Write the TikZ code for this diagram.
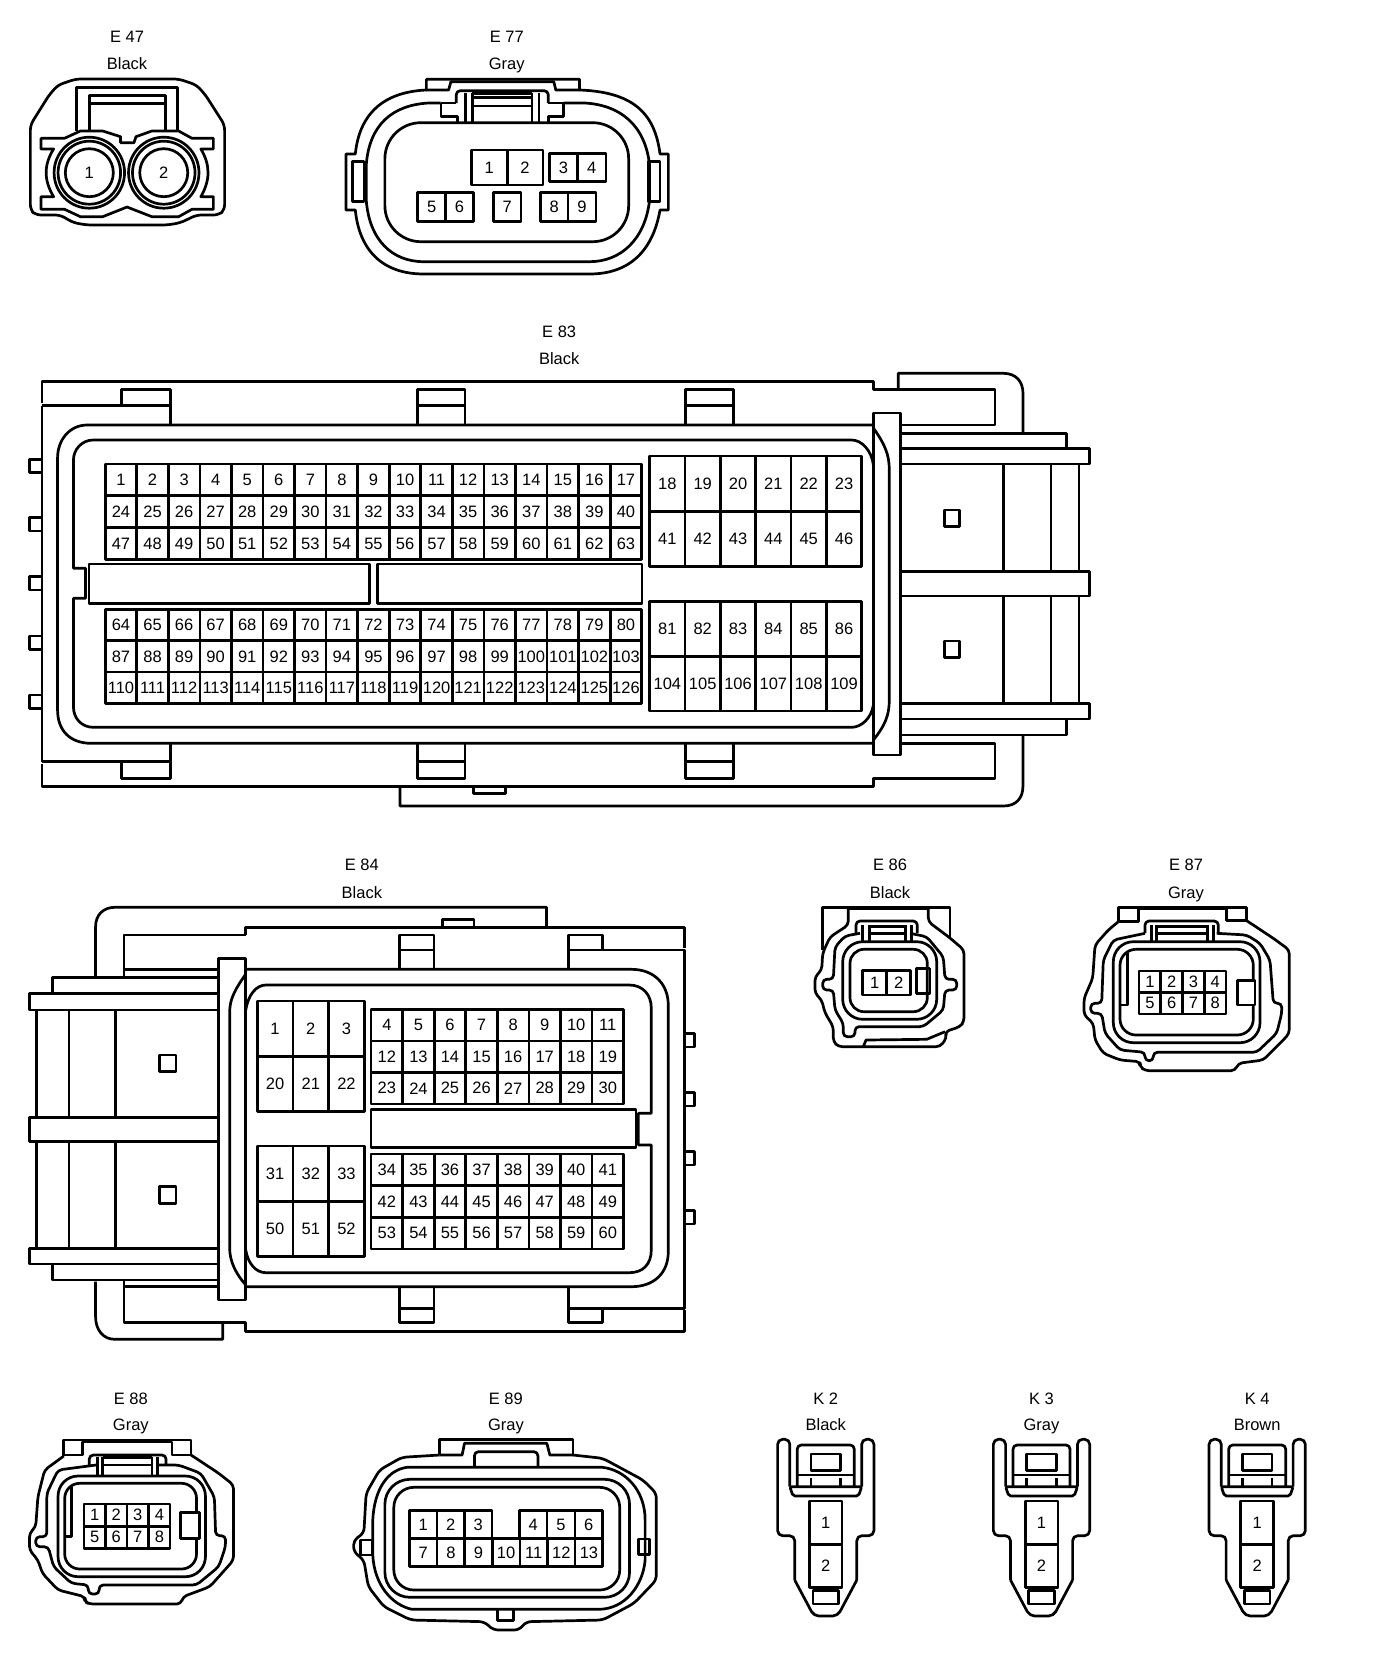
\documentclass[tikz,border=0pt]{standalone}
\usepackage{fontspec}
\setmainfont{Liberation Sans}
\usetikzlibrary{positioning,calc}
\newcommand{\txtsize}{\fontsize{16.5}{18}\selectfont}
% name, x0, y0, dx, dy, cols, rows, first number, number step per row
\newcommand{\pingrid}[9]{%
  \foreach \row in {1,...,#7} \foreach \col in {1,...,#6} {
    \pgfmathtruncatemacro{\pinno}{#8+(\row-1)*#9+\col-1}
    \node[pin, minimum width={#4*.9925*1pt}, minimum height=#5pt] (#1-\pinno) at ({#2+(\col-.5)*#4},{#3+(\row-.5)*#5}) {\pinno};
  }}
\tikzset{
  lbl/.style={font=\txtsize, inner sep=0pt, text height=11.9pt, text depth=0pt},
  pin/.style={draw, font=\txtsize, inner sep=0pt, outer sep=0pt, fill=white},
  keyblock/.style={draw, fill=white},
  pinround/.style={draw, circle, font=\txtsize, inner sep=0pt, outer sep=0pt, fill=white},
}
\begin{document}
\begin{tikzpicture}[x=.9925pt, y=-1pt, line width=2.7pt, line join=round]
  \useasboundingbox (0,0) rectangle (1386.4,1670);

  % E 47
  \node[lbl] (e47id) at (128,37) {E 47};
  \node[lbl] (e47col) at (128,64) {Black};
  \draw[rounded corners=5pt] (76.5,79) -- (58.5,85) -- (49.5,95) -- (30.6,125) -- (30.6,210) -- (36,215) -- (60.7,215) -- (74,222.7) -- (87.7,225) -- (168.7,225) -- (182,222.7) -- (198,215) -- (220.4,215) -- (226.3,210) -- (226.3,125) -- (207,95) -- (198,85) -- (180,79) -- cycle;
  \draw (77.4,131) -- (77.4,87.3) -- (178.6,87.3) -- (178.6,131);
  \draw (90,131) -- (90,95.7) -- (166.4,95.7) -- (166.4,131);
  \draw (90,103.3) -- (166.4,103.3);
  \draw[fill=white] (41.4,138.3) -- (65,138.3) -- (81,131) -- (103.5,131) -- (121.5,136.7) -- (121.5,142.7) -- (135,142.7) -- (137,136.7) -- (153,131) -- (180,131) -- (193.4,138.3) -- (215,138.3) -- (215,149) -- (202.4,149) .. controls (212,165) and (212,180) .. (202.4,196.7) -- (215,196.7) -- (215,209.3) -- (193.4,209.3) -- (180,216.7) -- (153,216.7) -- (128,207) -- (103.5,216.7) -- (81,216.7) -- (65,209.3) -- (41.4,209.3) -- (41.4,196.7) -- (54,196.7) .. controls (44,180) and (44,165) .. (54,149) -- (41.4,149) -- cycle;
  \foreach \cx in {90,165} {
    \draw[fill=white] (\cx,172.7) circle (35.5);
    \draw (\cx,172.7) circle (31.5);
  }
  \node[pinround, minimum size=48pt] (e47-1) at (90,172.7) {1};
  \node[pinround, minimum size=48pt] (e47-2) at (165,172.7) {2};

  % E 77
  \node[lbl] (e77id) at (510.6,37) {E 77};
  \node[lbl] (e77col) at (510.6,64) {Gray};
  \draw (429.6,90) -- (429.6,79.3) -- (583.9,79.3) -- (583.9,90) .. controls (640,92) and (660,115) .. (665,154) -- (673.4,154) -- (673.4,210) -- (665,210) .. controls (658,250) and (635,274) .. (594,274) -- (427,274) .. controls (385,274) and (362,250) .. (358,210) -- (348.6,210) -- (348.6,154) -- (358,154) .. controls (362,115) and (385,92) .. (429.6,90) -- cycle;
  \draw (429.6,90) -- (452,90) -- (454.3,81.7) -- (558,81.7) -- (560,90) -- (583.9,90);
  \draw (444,103) -- (432,103) .. controls (395,105) and (372,125) .. (369,165) -- (369,200) .. controls (372,240) and (395,261.7) .. (427,261.7) -- (594,261.7) .. controls (625,261.7) and (650,240) .. (654.5,200) -- (654.5,165) .. controls (650,125) and (625,105) .. (589,103) -- (568,103);
  \draw (355.4,161.7) rectangle (366.6,201.7);
  \draw (653,161.7) rectangle (665,201.7);
  \draw[rounded corners=36pt] (387.8,122.7) rectangle (633.4,241.7);
  \draw[rounded corners=4pt] (459.7,103) -- (459.7,90.7) -- (552.4,90.7) -- (552.4,103);
  \draw (444,103) -- (459.7,103) (552.4,103) -- (568,103);
  \draw (469,93) -- (469,122.7) (476,93) -- (476,122.7) (536,93) -- (536,122.7) (543,93) -- (543,122.7);
  \draw (476,93.3) -- (536,93.3) (476,97.3) -- (536,97.3) (476,106) -- (536,106);
  \draw (444.4,103) -- (444.4,116.7) -- (461,116.7) -- (461,122.7);
  \draw (568,103) -- (568,116.7) -- (552.4,116.7) -- (552.4,122.7);
  \pingrid{e77}{475}{150}{36}{35}{2}{1}{1}{0}
  \pingrid{e77}{553.3}{153.3}{28.6}{28.4}{2}{1}{3}{0}
  \pingrid{e77}{421}{192.7}{27.9}{29}{2}{1}{5}{0}
  \pingrid{e77}{497}{192.7}{28}{29}{1}{1}{7}{0}
  \pingrid{e77}{544.3}{192.7}{28.1}{29}{2}{1}{8}{0}

  % E 83
  \node[lbl] (e83id) at (563.4,332) {E 83};
  \node[lbl] (e83col) at (563.4,359) {Black};
  \draw (42.4,403) -- (42.4,381.7) -- (880,381.7) -- (880,389.3) -- (1002.5,389.3) -- (1002.5,425) -- (907,425);
  \draw (42.4,405.7) -- (42.4,761.7);
  \draw (42.4,405.7) -- (171.8,405.7) -- (171.8,425);
  \draw (42.4,761.7) -- (171.8,761.7) -- (171.8,743.3);
  \draw (42.4,764) -- (42.4,786.7) -- (880,786.7) -- (880,778.3) -- (1002.5,778.3) -- (1002.5,743.3) -- (907,743.3);
  \draw (122.3,405.7) -- (122.3,389.3) -- (171.8,389.3) -- (171.8,405.7);
  \draw (122.3,761.7) -- (122.3,778.3) -- (171.8,778.3) -- (171.8,761.7);
  \foreach \tx in {420.6,690.7} {
    \draw (\tx,425) -- (\tx,389.3) -- ({\tx+48},389.3) -- ({\tx+48},425) (\tx,405.7) -- ({\tx+48},405.7);
    \draw (\tx,743.3) -- (\tx,778.3) -- ({\tx+48},778.3) -- ({\tx+48},743.3) (\tx,761.7) -- ({\tx+48},761.7);
  }
  \foreach \py in {466,524.3,583.3,642.7,701.7} {
    \draw (42.4,{\py-6.7}) -- (29.7,{\py-6.7}) -- (29.7,{\py+6.7}) -- (42.4,{\py+6.7});
  }
  \draw (880,413) rectangle (907,755);
  \draw (880,425) -- (88,425) .. controls (70,425) and (58,440) .. (58,458) -- (58,710) .. controls (58,730) and (70,743.3) .. (92,743.3) -- (880,743.3);
  \draw (880,428) .. controls (892,445) and (896,455) .. (896,470) -- (896,700) .. controls (896,715) and (892,725) .. (880,740);
  \draw (880,465) .. controls (878,450) and (868,440) .. (858,440) -- (94,440) .. controls (82,440) and (74,450) .. (74,460) -- (74,568.3) -- (86.2,568.3) -- (86.2,598.3) -- (74,598.3) -- (74,707) .. controls (74,718) and (82,727.3) .. (94,727.3) -- (858,727.3) .. controls (868,727.3) and (878,718) .. (880,705);
  \node[keyblock, minimum width=280.7pt, minimum height=39.3pt, outer sep=0pt] (e83keya) at (231.2,583.6) {};
  \node[keyblock, minimum width=264.6pt, minimum height=39.3pt, outer sep=0pt] (e83keyb) at (513.6,583.6) {};
  \pingrid{e83}{106}{464}{31.8}{31.8}{17}{3}{1}{23}
  \pingrid{e83}{106}{609.3}{31.8}{31.4}{17}{3}{64}{23}
  \pingrid{e83}{654.6}{456}{35.6}{55.3}{6}{2}{18}{23}
  \pingrid{e83}{654.6}{601.7}{35.6}{54.7}{6}{2}{81}{23}
  \draw (905,389.3) -- (905,373.3) -- (1011,373.3) .. controls (1024,373.3) and (1030.7,382) .. (1030.7,393) -- (1030.7,433.3);
  \draw (907,433.3) -- (1074.6,433.3) -- (1074.6,448.3) -- (1098,448.3) -- (1098,464) -- (907,464);
  \draw (907,448.3) -- (1074.6,448.3);
  \draw (907,571.7) -- (1098,571.7) -- (1098,596) -- (907,596);
  \draw (907,703.3) -- (1098,703.3) -- (1098,719) -- (907,719);
  \draw (1074.6,719) -- (1074.6,735) -- (907,735);
  \draw (1011,464) -- (1011,571.7) (1059,464) -- (1059,571.7) (1087,464) -- (1087,571.7);
  \draw (1011,596) -- (1011,703.3) (1059,596) -- (1059,703.3) (1087,596) -- (1087,703.3);
  \draw (1030.7,735) -- (1030.7,786) .. controls (1030.7,798) and (1024,806) .. (1011,806) -- (403,806) -- (403,786.7);
  \draw (477,786.7) -- (477,793.3) -- (509,793.3) -- (509,786.7);
  \draw (951.6,510) rectangle (966.4,526.7);
  \draw (951.6,641) rectangle (966.4,657.7);

  % E 84
  \node[lbl] (e84id) at (364.6,865) {E 84};
  \node[lbl] (e84col) at (364.6,892.3) {Black};
  \draw (96.3,976.7) -- (96.3,926.7) .. controls (96.3,915) and (104,907.3) .. (115.7,907.3) -- (550.7,907.3) -- (550.7,927.3);
  \draw (247.6,935) -- (125,935) -- (125,976.7);
  \draw (125,969.3) -- (219.8,969.3);
  \draw (125,1286.7) -- (219.8,1286.7);
  \draw (247.6,935) -- (247.6,927.3) -- (689.5,927.3) -- (689.5,948);
  \draw (572.9,950) -- (689.5,950) -- (689.5,1308.3) -- (572.9,1308.3);
  \draw (689.5,1310) -- (689.5,1331.7) -- (247.6,1331.7) -- (247.6,1322.7) -- (125,1322.7) -- (125,1280);
  \draw (96.3,1281.7) -- (96.3,1316.7) .. controls (96.3,1330) and (104,1339.3) .. (115.7,1339.3) -- (224.4,1339.3) -- (224.4,1323);
  \draw (445.6,927.3) -- (445.6,919.3) -- (477.6,919.3) -- (477.6,927.3);
  \draw (402.6,969.3) -- (402.6,935) -- (437.3,935) -- (437.3,969.3) (402.6,950) -- (437.3,950);
  \draw (402.6,1288.3) -- (402.6,1322.7) -- (437.3,1322.7) -- (437.3,1288.3) (402.6,1308.3) -- (437.3,1308.3);
  \draw (572.9,969.3) -- (572.9,935) -- (607.1,935) -- (607.1,950);
  \draw (572.9,1288.3) -- (572.9,1322.7) -- (607.1,1322.7) -- (607.1,1308.3);
  \foreach \py in {1040.3,1099.3,1158.3,1217.3} {
    \draw (689.5,{\py-6.7}) -- (700,{\py-6.7}) -- (700,{\py+6.7}) -- (689.5,{\py+6.7});
  }
  \draw (219.8,958.3) rectangle (247.6,1300);
  \draw (247.6,969.3) -- (636,969.3) .. controls (660,969.3) and (673.3,985) .. (673.3,1005) -- (673.3,1252) .. controls (673.3,1272) and (660,1286.7) .. (636,1286.7) -- (247.6,1286.7);
  \draw (247.6,974) .. controls (238,988) and (231.4,998) .. (231.4,1012) -- (231.4,1248) .. controls (231.4,1262) and (238,1274) .. (247.6,1285);
  \draw (247.6,1010) .. controls (250,995) and (258,985) .. (268,985) -- (634,985) .. controls (648,985) and (656.2,995) .. (656.2,1008) -- (656.2,1113.3) -- (643.2,1113.3) -- (643.2,1145) -- (656.2,1145) -- (656.2,1250) .. controls (656.2,1264) and (648,1272.7) .. (634,1272.7) -- (268,1272.7) .. controls (258,1272.7) and (250,1264) .. (247.6,1250);
  \node[keyblock, minimum width=265pt, minimum height=38.4pt, outer sep=0pt] (e84key) at (507.4,1128.5) {};
  \pingrid{e84}{259.1}{1001}{36}{55.3}{3}{2}{1}{19}
  \pingrid{e84}{259.1}{1146}{36}{55.3}{3}{2}{31}{19}
  \pingrid{e84}{373.9}{1009.3}{31.8}{31.6}{8}{2}{4}{8}
  \pingrid{e84}{373.9}{1072.5}{31.8}{31.6}{8}{1}{23}{8}
  \pingrid{e84}{373.9}{1154}{31.8}{31.7}{8}{2}{34}{8}
  \pingrid{e84}{373.9}{1217.4}{31.8}{31.7}{8}{1}{53}{8}
  \draw (219.8,977.3) -- (53.2,977.3) -- (53.2,993.3);
  \draw (219.8,993.3) -- (30,993.3) -- (30,1010) -- (219.8,1010);
  \draw (219.8,1117.3) -- (30,1117.3) -- (30,1141.7) -- (219.8,1141.7);
  \draw (219.8,1248.3) -- (30,1248.3) -- (30,1264) -- (219.8,1264);
  \draw (53.2,1264) -- (53.2,1280) -- (219.8,1280);
  \draw (37,1010) -- (37,1117.3) (69.4,1010) -- (69.4,1117.3) (116.6,1010) -- (116.6,1117.3);
  \draw (37,1141.7) -- (37,1248.3) (69.4,1141.7) -- (69.4,1248.3) (116.6,1141.7) -- (116.6,1248.3);
  \draw (160.6,1055) rectangle (177.2,1071.7);
  \draw (160.6,1186.7) rectangle (177.2,1203.3);

  \begin{scope}[x=1pt]
  % E 86
  \node[lbl] (e86id) at (890,865) {E 86};
  \node[lbl] (e86col) at (890,892.3) {Black};
  \draw (822.7,950) -- (822.7,907.3) -- (950,907.3) -- (950,938);
  \draw[rounded corners=4pt] (848.3,909) -- (848.3,925) -- (830,937) -- (822.7,953) -- (821.7,970) -- (815,976.7) -- (815,993.3) -- (821.7,1000) -- (825,1013) -- (833.3,1026.7) -- (833.3,1041.7) -- (838.3,1046.7) -- (940,1046.7) -- (946.7,1038) -- (945,1031.7) -- (960,1026.7) -- (964,1021.7) -- (964,950) -- (950,938) -- (928.3,921.7) -- (928.3,909);
  \draw (848.3,909) -- (928.3,909);
  \draw[rounded corners=4pt] (860,933.3) -- (845,936) -- (835,947) -- (833.3,979.3) -- (822.7,979.3) -- (822.7,990) -- (833.3,990) -- (835,1010) -- (843.3,1023.3) -- (843.3,1036.7) -- (855,1036.7) -- (855,1026.7) -- (923.3,1026.7) -- (943.3,1010) -- (945,990) -- (956.7,990) -- (956.7,979.3) -- (945,979.3) -- (943.3,956.7) -- (926.7,936.7) -- (910,933.3);
  \draw (863.3,1046.7) -- (866,1040) -- (926.7,1039.3) -- (945,1031.7);
  \draw[rounded corners=20pt] (842.7,941.7) rectangle (936.7,1019.3);
  \draw[rounded corners=14pt] (850,949.3) rectangle (927.3,1011.7);
  \draw[rounded corners=4pt] (856,933) -- (856,921) -- (917.3,921) -- (917.3,933);
  \draw (862.3,925) -- (862.3,941.7) (869.3,925) -- (869.3,941.7) (905.7,925) -- (905.7,941.7) (911.7,925) -- (911.7,941.7);
  \draw (869.3,926.7) -- (905.7,926.7) (869.3,933.3) -- (905.7,933.3);
  \pingrid{e86}{862.7}{970.7}{24}{24.3}{2}{1}{1}{0}
  \draw (930,968.3) -- (916.7,968.3) -- (916.7,993.3) -- (930,993.3) -- (930,968.3);

  % E 87
  \node[lbl] (e87id) at (1186,865) {E 87};
  \node[lbl] (e87col) at (1186,892.3) {Gray};
  \draw (1118.3,921.7) -- (1118.3,907.3) -- (1246.7,907.3) -- (1246.7,920.7);
  \draw (1118.3,921.7) -- (1138.3,921.7) -- (1138.3,909) -- (1226.7,909) -- (1226.7,920.7) -- (1246.7,920.7);
  \draw[rounded corners=4pt] (1118.3,921.7) -- (1108.3,930) -- (1095,945) -- (1092.7,978.3) -- (1084,998.3) -- (1084,1015) -- (1093.3,1023.3) -- (1095,1040) -- (1103.3,1053.3) -- (1120,1060) -- (1140,1061.7) -- (1140,1066.7) -- (1145,1070.7) -- (1235,1070.7) -- (1238.3,1063.3) -- (1263.3,1060) -- (1283.3,1040) -- (1289.3,1033.3) -- (1289.3,950) -- (1273.3,938.3) -- (1246.7,920.7);
  \draw[rounded corners=4pt] (1145,933.3) -- (1113.3,940) -- (1103.3,960) -- (1101.7,1003.3) -- (1090.7,1003.3) -- (1090.7,1013.3) -- (1101.7,1013.3) -- (1105,1033.3) -- (1120,1050) -- (1145,1052.3) -- (1145,1060.7) -- (1153.3,1060.7) -- (1153.3,1052.3) -- (1256.7,1052.3) -- (1276.7,1033.3) -- (1281.7,1013.3) -- (1281.7,1003.3) -- (1273.3,1003.3) -- (1270,960) -- (1260,943.3) -- (1246.7,935) -- (1216.7,933.3);
  \draw[rounded corners=20pt] (1113.3,941.7) rectangle (1260,1042.7);
  \draw[rounded corners=16pt] (1120,949.3) rectangle (1253.3,1035);
  \draw (1127.3,953) -- (1127.3,1005) -- (1120,1005);
  \draw[rounded corners=4pt] (1145,933) -- (1145,921) -- (1218.3,921) -- (1218.3,933);
  \draw (1151.7,925) -- (1151.7,941.7) (1156.7,925) -- (1156.7,941.7) (1207.7,925) -- (1207.7,941.7) (1213.3,925) -- (1213.3,941.7);
  \draw (1156.7,926.7) -- (1207.7,926.7) (1156.7,933.3) -- (1207.7,933.3);
  \pingrid{e87}{1139}{971}{21.75}{21.5}{4}{2}{1}{4}
  \draw[fill=white] (1237.3,980.7) rectangle (1255,1005);
  \end{scope}

  % E 88
  \node[lbl] (e88id) at (131.8,1398.3) {E 88};
  \node[lbl] (e88col) at (131.8,1425) {Gray};
  \draw (64.3,1456) -- (64.3,1440) -- (192.5,1440) -- (192.5,1455);
  \draw (64.3,1455) -- (83.2,1455) -- (83.2,1442) -- (173.2,1442) -- (173.2,1455) -- (192.5,1455);
  \draw[rounded corners=4pt] (64.3,1456) -- (45,1470) -- (38.2,1496.7) -- (36,1526.7) -- (29.7,1533.3) -- (29.7,1550) -- (38.2,1560) -- (42.7,1573.3) -- (58.5,1590) -- (85.5,1596.7) -- (85.5,1601.7) -- (90,1604) -- (182.2,1604) -- (184.4,1596.7) -- (211.4,1586.7) -- (229.4,1566.7) -- (235.3,1560) -- (235.3,1485) -- (220.4,1473.3) -- (192.5,1455);
  \draw[rounded corners=4pt] (96.7,1465) -- (58.5,1470) -- (47.2,1493.3) -- (47.2,1536.7) -- (36,1536.7) -- (36,1546.7) -- (48.6,1546.7) -- (54,1566.7) -- (72,1583.3) -- (89,1585) -- (89,1594) -- (99.9,1594) -- (99.9,1585) -- (198,1585) -- (220.4,1566.7) -- (227.2,1546.7) -- (227.2,1535.7) -- (217.3,1535.7) -- (216,1496.7) -- (202.4,1473.3) -- (180,1465) -- (157.4,1465);
  \draw[rounded corners=20pt] (58.5,1476) rectangle (207,1576.7);
  \draw[rounded corners=15pt] (65.2,1483.3) rectangle (198,1569);
  \draw (72,1487) -- (72,1536.7) -- (65.2,1536.7);
  \draw[rounded corners=4pt] (90,1465) -- (90,1455) -- (167.3,1455) -- (167.3,1465);
  \draw (98,1457) -- (98,1476) (103.5,1457) -- (103.5,1476) (153,1457) -- (153,1476) (158.8,1457) -- (158.8,1476);
  \draw (103.5,1457.7) -- (153,1457.7) (103.5,1465) -- (153,1465);
  \pingrid{e88}{84.6}{1504}{21.7}{22.2}{4}{2}{1}{4}
  \draw[fill=white] (182.2,1512.7) rectangle (201,1538.3);

  % E 89
  \node[lbl] (e89id) at (509.7,1398.3) {E 89};
  \node[lbl] (e89col) at (509.7,1425) {Gray};
  \draw (443,1455) -- (443,1439.3) -- (577.2,1439.3) -- (577.2,1455);
  \draw (443,1455) -- (465.6,1455) -- (468,1443.3) -- (551,1443.3) -- (554,1455) -- (577.2,1455);
  \draw[rounded corners=4pt] (478,1466.7) -- (478,1451.7) -- (542,1451.7) -- (542,1466.7);
  \draw[rounded corners=5pt] (443,1455) -- (404.9,1457.3) -- (382.4,1470) -- (368.9,1493.3) -- (366.6,1533.3) -- (356.3,1540) -- (356.3,1551.7) -- (366.6,1560) -- (371.1,1586.7) -- (386.9,1606.7) -- (413.9,1620) -- (488,1621.7) -- (497,1630) -- (523.2,1630) -- (530,1621.7) -- (607.3,1620) -- (638.8,1603.3) -- (661.3,1580) -- (661.3,1493.3) -- (647.8,1480) -- (607.3,1458.3) -- (577.2,1455);
  \draw (410,1467.3) -- (607,1467.3) .. controls (630,1470) and (650,1490) .. (650,1520) -- (650,1560) .. controls (648,1585) and (630,1609.3) .. (603,1609.3) -- (415,1609.3) .. controls (395,1605) and (377,1585) .. (375.6,1555) -- (375.6,1520) .. controls (377,1490) and (390,1470) .. (410,1467.3) -- cycle;
  \draw[rounded corners=25pt] (387.8,1479.3) rectangle (634.3,1597.3);
  \draw[rounded corners=20pt] (396.8,1487.3) rectangle (624.4,1590);
  \draw (363.5,1540) rectangle (375.6,1555);
  \draw (643.3,1539) rectangle (654.5,1554.3);
  \draw (501.6,1610) -- (501.6,1620.7) -- (517.3,1620.7) -- (517.3,1610);
  \pingrid{e89}{412.5}{1510.7}{27.7}{28}{3}{1}{1}{0}
  \pingrid{e89}{523.2}{1510.7}{28}{28}{3}{1}{4}{0}
  \pingrid{e89}{412.5}{1538.7}{27.83}{28}{7}{1}{7}{0}

  % K 2, K 3, K 4
  \foreach \nm/\cx/\capt/\colr in {k2/832/K 2/Black, k3/1049.4/K 3/Gray, k4/1266.7/K 4/Brown} {
    \node[lbl] (\nm id) at (\cx,1398.3) {\capt};
    \node[lbl] (\nm col) at (\cx,1425) {\colr};
    \begin{scope}[shift={(\cx,0)}]
      \draw[rounded corners=5pt] (-36.2,1486.7) -- (-36.2,1439.3) -- (-48.5,1439.3) -- (-48.5,1535.7) -- (-31.3,1535.7) -- (-31.3,1580);
      \draw[rounded corners=5pt] (-31.3,1580) -- (-12,1616) -- (12,1616) -- (31.3,1580);
      \draw[rounded corners=5pt] (31.3,1580) -- (31.3,1535.7) -- (48.5,1535.7) -- (48.5,1439.3) -- (36.2,1439.3) -- (36.2,1486.7);
      \draw[rounded corners=4pt] (-28.7,1486.7) -- (-28.7,1445) -- (28.7,1445) -- (28.7,1486.7);
      \draw (-15,1454) rectangle (15,1470.7);
      \draw (-28.7,1475) -- (28.7,1475);
      \draw (-15,1478) -- (-15,1486.7) (15,1478) -- (15,1486.7);
      \draw[rounded corners=2pt] (-36.2,1486.7) -- (36.2,1486.7) -- (33,1496) -- (-33,1496) -- cycle;
      \pingrid{\nm}{-16.5}{1501}{33}{43.2}{1}{2}{1}{1}
      \draw (-13,1590.7) rectangle (13,1604);
    \end{scope}
  }
\end{tikzpicture}
\end{document}
